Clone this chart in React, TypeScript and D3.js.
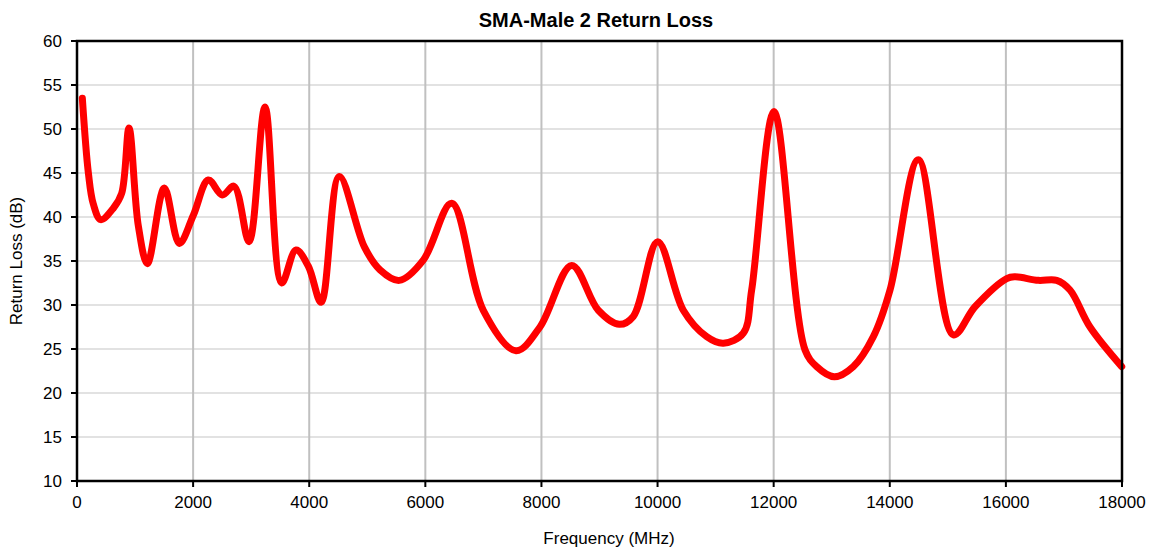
import React from "react";
import * as d3 from "d3";

const frequencies = [
  92, 196, 280, 408, 626, 770, 896, 1056, 1212, 1504, 1763, 2004, 2262, 2503, 2704, 2963,
  3238, 3526, 3772, 3985, 4205, 4518, 4950, 5219, 5552, 5965, 6454, 6998, 7562, 7975,
  8521, 8979, 9341, 9582, 10002, 10443, 10846, 11133, 11478, 11621, 12006, 12540,
  12741, 13045, 13372, 13717, 14004, 14492, 15095, 15468, 16014, 16157, 16559,
  16875, 17104, 17449, 17995,
];
const returnLoss = [
  53.5, 45.0, 41.5, 39.7, 41.0, 42.7, 50.1, 39.0, 34.7, 43.3, 37.0, 40.2, 44.2, 42.5, 43.5, 37.2,
  52.5, 32.5, 36.25, 34.4, 30.3, 44.6, 36.6, 34.0, 32.8, 35.1, 41.55, 29.4, 24.8, 27.5,
  34.5, 29.4, 27.8, 28.7, 37.2, 29.4, 26.4, 25.65, 26.8, 31.7, 52.0, 24.9,
  23.0, 21.85, 23.0, 26.4, 31.7, 46.5, 26.6, 29.8, 33.0, 33.2, 32.8,
  32.8, 31.7, 27.5, 23.0,
];
const xTicks = [0, 2000, 4000, 6000, 8000, 10000, 12000, 14000, 16000, 18000];
const yTicks = [10, 15, 20, 25, 30, 35, 40, 45, 50, 55, 60];

const title = "SMA-Male 2 Return Loss";
const xLabel = "Frequency (MHz)";
const yLabel = "Return Loss (dB)";

export default function App() {
  const W = 1154;
  const H = 552;
  const left = 77;
  const right = 1122;
  const top = 41;
  const bottom = 481;
  const x = d3.scaleLinear().domain([0, 18000]).range([left, right]);
  const y = d3.scaleLinear().domain([10, 60]).range([bottom, top]);
  const pts = frequencies.map((f, i) => [f, returnLoss[i]] as [number, number]);
  const line = d3
    .line<[number, number]>()
    .x((d) => x(d[0]))
    .y((d) => y(d[1]))
    .curve(d3.curveCatmullRom.alpha(0.5));
  const font = "'Liberation Sans', Arial, sans-serif";
  return (
    <svg
      width={W}
      height={H}
      style={{ position: "absolute", left: 0, top: 0, background: "#fff" }}
      fontFamily={font}
    >
      <rect x={0} y={0} width={W} height={H} fill="#fff" />
      {yTicks.map((t) => (
        <line key={"hy" + t} x1={left} x2={right} y1={y(t)} y2={y(t)} stroke="#d9d9d9" strokeWidth={1.5} />
      ))}
      {xTicks.map((t) => (
        <line key={"vx" + t} x1={x(t)} x2={x(t)} y1={top} y2={bottom} stroke="#c0c0c0" strokeWidth={2} />
      ))}
      <path d={line(pts) || ""} fill="none" stroke="#ff0000" strokeWidth={7} strokeLinecap="round" strokeLinejoin="round" />
      <rect x={left} y={top} width={right - left} height={bottom - top} fill="none" stroke="#000" strokeWidth={2.5} />
      {yTicks.map((t) => (
        <g key={"yt" + t}>
          <line x1={left - 6} x2={left} y1={y(t)} y2={y(t)} stroke="#000" strokeWidth={2} />
          <text x={left - 15} y={y(t)} dy="0.35em" textAnchor="end" fontSize={17} fill="#000">
            {t}
          </text>
        </g>
      ))}
      {xTicks.map((t) => (
        <g key={"xt" + t}>
          <line x1={x(t)} x2={x(t)} y1={bottom} y2={bottom + 6} stroke="#000" strokeWidth={2} />
          <text x={x(t)} y={bottom + 21} dy="0.35em" textAnchor="middle" fontSize={17} fill="#000">
            {t}
          </text>
        </g>
      ))}
      <text x={596} y={20} dy="0.35em" textAnchor="middle" fontSize={20} fontWeight="bold" fill="#000">
        {title}
      </text>
      <text x={609} y={538} dy="0.35em" textAnchor="middle" fontSize={17} fill="#000">
        {xLabel}
      </text>
      <text
        transform={`translate(16,${(top + bottom) / 2}) rotate(-90)`}
        dy="0.35em"
        textAnchor="middle"
        fontSize={17}
        fill="#000"
      >
        {yLabel}
      </text>
    </svg>
  );
}
